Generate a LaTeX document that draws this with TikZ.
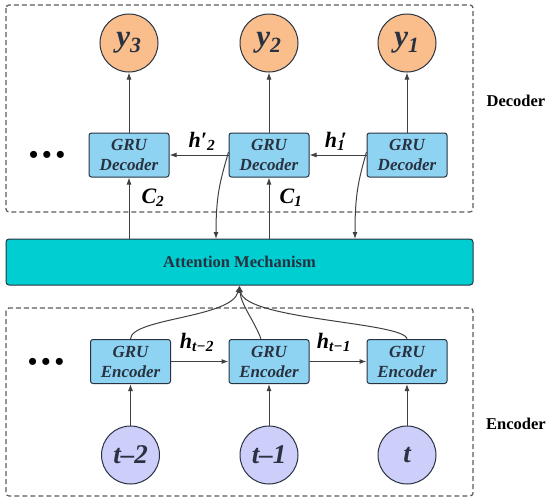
\documentclass[tikz,border=0pt]{standalone}
\usepackage{fontspec}
\setmainfont{Liberation Serif}
\usetikzlibrary{arrows.meta}
\definecolor{orangefill}{RGB}{250,190,140}
\definecolor{bluefill}{RGB}{142,211,242}
\definecolor{tealfill}{RGB}{0,206,209}
\definecolor{lavfill}{RGB}{206,206,250}
\definecolor{edgecol}{RGB}{40,50,64}
\definecolor{linecol}{RGB}{64,64,64}
\definecolor{dashcol}{RGB}{90,90,90}
\begin{document}
\begin{tikzpicture}[x=1pt,y=-1pt,
  gru/.style={draw=edgecol, line width=1pt, fill=bluefill, rounded corners=2.5pt, minimum width=80pt, minimum height=44pt, align=center, font=\fontsize{17}{20}\selectfont\bfseries\itshape, text=edgecol, inner sep=0pt},
  outc/.style={circle, draw=edgecol, line width=1pt, fill=orangefill, minimum size=58pt, inner sep=0pt, font=\fontsize{31}{31}\selectfont\bfseries\itshape, text=edgecol},
  inc/.style={circle, draw=edgecol, line width=1pt, fill=lavfill, minimum size=58pt, inner sep=0pt, font=\fontsize{27}{27}\selectfont\bfseries\itshape, text=edgecol},
  arr/.style={draw=linecol, line width=1pt, -{Latex[length=7pt,width=5pt]}},
  group/.style={draw=dashcol, line width=1.2pt, dash pattern=on 5pt off 3pt, rounded corners=3pt},
  lab/.style={font=\fontsize{22}{22}\selectfont\bfseries\itshape, inner sep=0pt},
  side/.style={font=\fontsize{16.5}{16.5}\selectfont\bfseries, inner sep=0pt},
  dots/.style={font=\fontsize{26}{26}\selectfont\bfseries, inner sep=0pt}
]
\useasboundingbox (0,0) rectangle (550,501);

% group frames
\draw[group] (6,5) rectangle (473,212);
\draw[group] (6,308) rectangle (473,496);

% attention
\node[draw=edgecol, line width=1pt, fill=tealfill, rounded corners=3pt, minimum width=467pt, minimum height=46pt, inner sep=0pt, font=\fontsize{16.5}{16.5}\selectfont\bfseries, text=edgecol] (att) at (239.5,262) {Attention Mechanism};

% decoder
\node[gru] (dec1) at (129,155) {GRU\\Decoder};
\node[gru] (dec2) at (269,155) {GRU\\Decoder};
\node[gru] (dec3) at (407,155) {GRU\\Decoder};
\node[outc] (y3) at (129,43) {y\textsubscript{3}};
\node[outc] (y2) at (269,43) {y\textsubscript{2}};
\node[outc] (y1) at (407,43) {y\textsubscript{1}};

% encoder
\node[gru] (enc1) at (130.5,361.5) {GRU\\Encoder};
\node[gru] (enc2) at (269,361.5) {GRU\\Encoder};
\node[gru] (enc3) at (407,361.5) {GRU\\Encoder};
\node[inc] (in1) at (130.5,455) {t–2};
\node[inc] (in2) at (269,455) {t–1};
\node[inc] (in3) at (407,455) {t};

% labels
\node[dots] (d1) at (47,157) {•\,•\,•};
\node[dots] (d2) at (46,364) {•\,•\,•};
\node[side] (declab) at (516,101) {Decoder};
\node[side] (enclab) at (516,424) {Encoder};
\node[lab] (hp2) at (202,141) {h′\textsubscript{2}};
\node[lab] (hp1) at (335,141) {h\makebox[0pt][l]{\,′}\textsubscript{1}};
\node[lab] (c2) at (153,198) {C\textsubscript{2}};
\node[lab] (c1) at (291,198) {C\textsubscript{1}};
\node[lab] (ht2) at (197,342) {h\textsubscript{t−2}};
\node[lab] (ht1) at (334,342) {h\textsubscript{t−1}};

% decoder connectors
\draw[arr] (dec1) -- (y3);
\draw[arr] (dec2) -- (y2);
\draw[arr] (dec3) -- (y1);
\draw[arr] (dec2.west) -- (dec1.east);
\draw[arr] (dec3.west) -- (dec2.east);
\draw[arr] (dec1.south |- att.north) -- (dec1.south);
\draw[arr] (dec2.south |- att.north) -- (dec2.south);
\coordinate (t2) at (216,239);
\coordinate (t3) at (355,239);
\draw[arr] ([yshift=3pt]dec2.west) .. controls +(-8,28) and +(0,-45) .. (t2);
\draw[arr] ([yshift=3pt]dec3.west) .. controls +(-8,28) and +(0,-45) .. (t3);

% encoder connectors
\draw[arr] (in1) -- (enc1);
\draw[arr] (in2) -- (enc2);
\draw[arr] (in3) -- (enc3);
\draw[arr] (enc1.east) -- (enc2.west);
\draw[arr] (enc2.east) -- (enc3.west);
\draw[arr] (enc1.north) .. controls (131,318) and (232,318) .. (att.south);
\draw[arr] ([xshift=-8pt]enc2.north) .. controls (255,322) and (241,305) .. (att.south);
\draw[arr] (enc3.north) .. controls (405,322) and (245,320) .. (att.south);
\end{tikzpicture}
\end{document}
